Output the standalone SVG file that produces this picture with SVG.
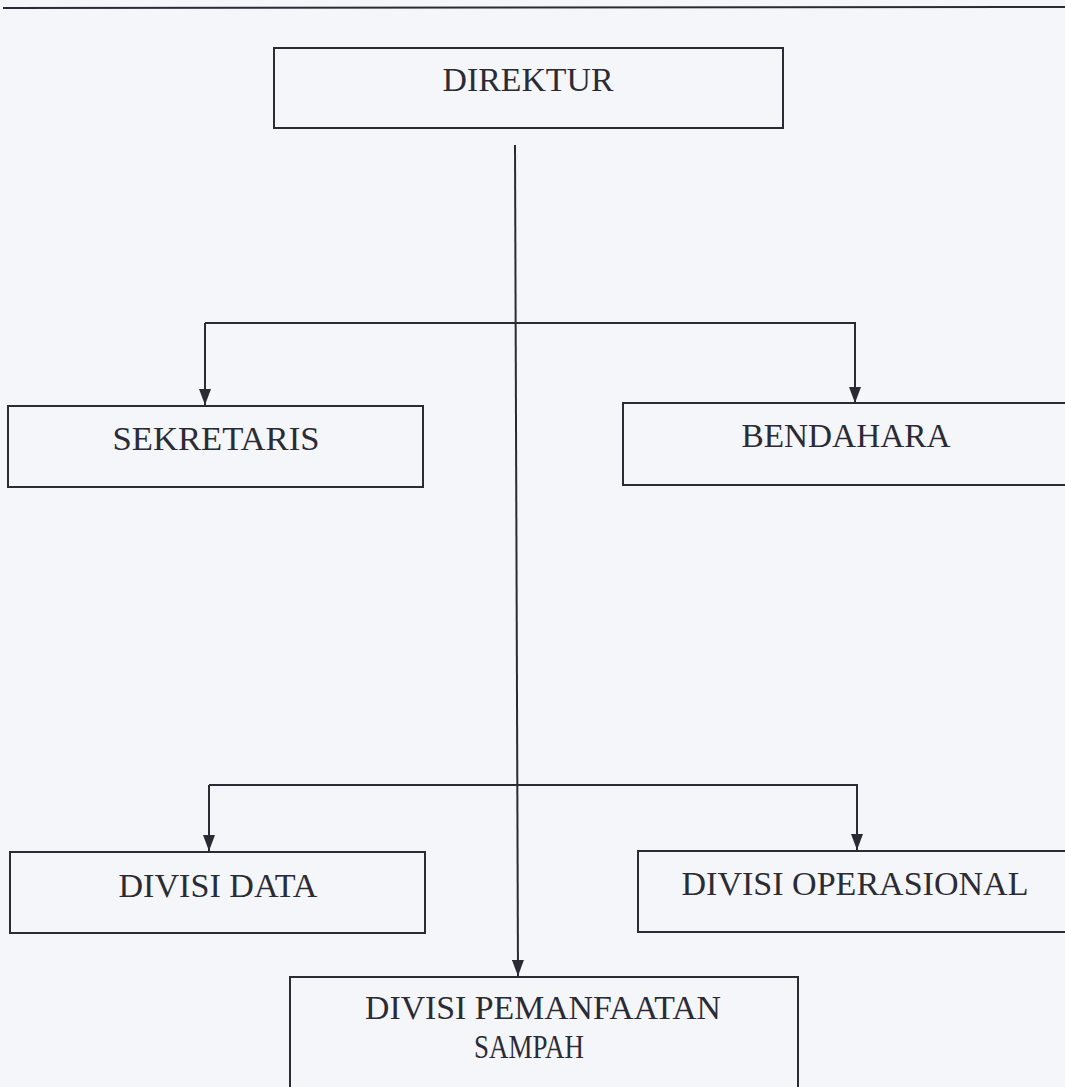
<svg xmlns="http://www.w3.org/2000/svg" width="1065" height="1087" viewBox="0 0 1065 1087">
<style>
.box{fill:none;stroke:#2b2b36;stroke-width:2}
.lbl{font-family:"Liberation Serif","Times New Roman",serif;font-size:33px;fill:#2b2b36;text-anchor:middle}
.ln{fill:none;stroke:#2b2b36;stroke-width:2}
</style>
<defs>
<marker id="arr" viewBox="0 0 16 12" refX="16" refY="6" markerWidth="16" markerHeight="12" markerUnits="userSpaceOnUse" orient="auto">
<path d="M0,0 L16,6 L0,12 Z" fill="#2b2b36"/>
</marker>
</defs>
<rect width="1065" height="1087" fill="#f5f6f9"/>
<line x1="3" y1="8" x2="1065" y2="7" stroke="#2b2b36" stroke-width="2"/>
<g id="connectors">
<line class="ln" x1="515" y1="145" x2="518" y2="976" marker-end="url(#arr)"/>
<polyline class="ln" points="205,323 855,323 855,403" marker-end="url(#arr)"/>
<line class="ln" x1="205" y1="323" x2="205" y2="405" marker-end="url(#arr)"/>
<polyline class="ln" points="209,785 857,785 857,850" marker-end="url(#arr)"/>
<line class="ln" x1="209" y1="785" x2="209" y2="851" marker-end="url(#arr)"/>
</g>
<g id="direktur">
<rect class="box" x="274" y="48" width="509" height="80"/>
<text class="lbl" x="528" y="91" textLength="171" lengthAdjust="spacingAndGlyphs">DIREKTUR</text>
</g>
<g id="sekretaris">
<rect class="box" x="8" y="406" width="415" height="81"/>
<text class="lbl" x="216" y="450" textLength="207" lengthAdjust="spacingAndGlyphs">SEKRETARIS</text>
</g>
<g id="bendahara">
<rect class="box" x="623" y="403" width="450" height="82"/>
<text class="lbl" x="846" y="447" textLength="209" lengthAdjust="spacingAndGlyphs">BENDAHARA</text>
</g>
<g id="divisi-data">
<rect class="box" x="10" y="852" width="415" height="81"/>
<text class="lbl" x="218" y="897" textLength="199" lengthAdjust="spacingAndGlyphs">DIVISI DATA</text>
</g>
<g id="divisi-operasional">
<rect class="box" x="638" y="851" width="435" height="81"/>
<text class="lbl" x="855" y="895" textLength="347" lengthAdjust="spacingAndGlyphs">DIVISI OPERASIONAL</text>
</g>
<g id="divisi-pemanfaatan">
<rect class="box" x="290" y="977" width="508" height="120"/>
<text class="lbl" x="543" y="1019" textLength="356" lengthAdjust="spacingAndGlyphs">DIVISI PEMANFAATAN</text>
<text class="lbl" x="529" y="1058" textLength="110" lengthAdjust="spacingAndGlyphs">SAMPAH</text>
</g>
</svg>
